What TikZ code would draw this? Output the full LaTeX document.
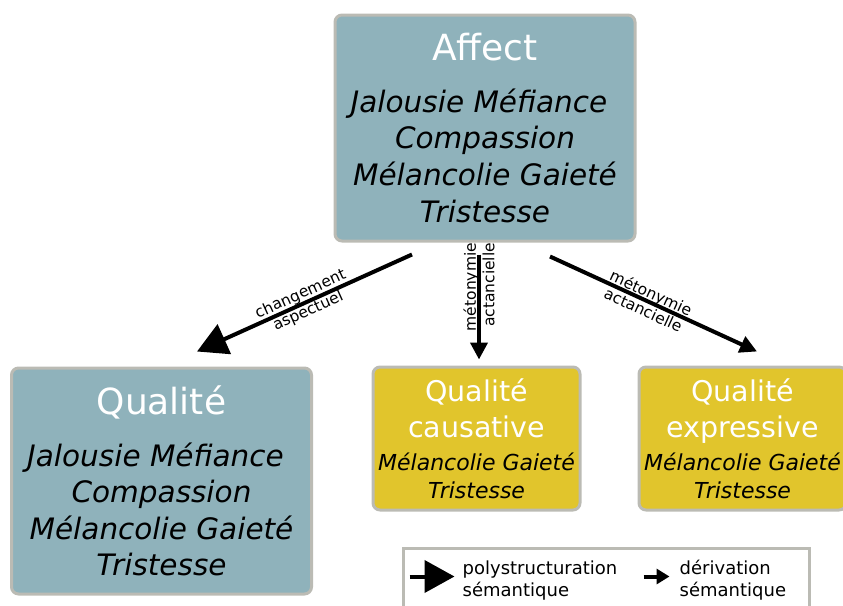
\documentclass[tikz,border=0pt]{standalone}
\usepackage{fontspec}
\setmainfont{DejaVu Sans}
\usetikzlibrary{arrows.meta,positioning}
\definecolor{affectblue}{HTML}{8FB2BB}
\definecolor{qualyellow}{HTML}{E1C52C}
\definecolor{boxborder}{HTML}{BBBBB4}
\tikzset{
    bigbox/.style={
        rounded corners=7pt,
        line width=3pt,
        draw=boxborder,
        fill=affectblue,
        minimum width=300pt,
        minimum height=226pt,
        inner sep=0pt,
        align=center,
        font=\fontsize{29.5}{36.6}\selectfont,
    },
    smallbox/.style={
        rounded corners=7pt,
        line width=3pt,
        draw=boxborder,
        fill=qualyellow,
        minimum width=207pt,
        minimum height=143pt,
        inner sep=0pt,
        align=center,
        font=\fontsize{22}{28}\selectfont,
    },
    legendbox/.style={
        line width=3pt,
        draw=boxborder,
        fill=white,
        minimum width=406pt,
        minimum height=80pt,
    },
    poly/.style={
        line width=4pt,
        -{Triangle[length=30pt,width=32pt]},
    },
    deriv/.style={
        line width=4pt,
        -{Triangle[length=17pt,width=17pt]},
    },
    lbl/.style={
        font=\fontsize{15.5}{18.5}\selectfont,
        align=center,
        inner sep=0.5pt,
    },
    legtext/.style={
        font=\fontsize{18}{22}\selectfont,
        align=left,
        inner sep=0pt,
    },
}
\newcommand{\bigtitle}[1]{{\fontsize{36}{36}\selectfont\color{white}#1}}
\newcommand{\smalltitle}[1]{{\fontsize{28.5}{28}\selectfont\color{white}#1}}

\begin{document}
\begin{tikzpicture}[x=1pt,y=-1pt]
    \useasboundingbox (0,0) rectangle (843,605);
    \clip (0,0) rectangle (843,605);

    % boxes
    \node [bigbox] (affect) at (485,128)
        {\bigtitle{Affect}\\[15pt]
         \itshape Jalousie Méfiance\rule{12pt}{0pt}\\ \itshape Compassion\\
         \itshape Mélancolie Gaieté\\ \itshape Tristesse};
    \node [bigbox] (qualite) at (161.5,481)
        {\bigtitle{Qualité}\\[15pt]
         \itshape Jalousie Méfiance\rule{12pt}{0pt}\\ \itshape Compassion\\
         \itshape Mélancolie Gaieté\\ \itshape Tristesse};
    \node [smallbox] (causative) at (476.5,438.5)
        {\smalltitle{Qualité}\\[8pt] \smalltitle{causative}\\[5pt]
         \itshape Mélancolie Gaieté\\ \itshape Tristesse};
    \node [smallbox] (expressive) at (742.5,438.5)
        {\smalltitle{Qualité}\\[8pt] \smalltitle{expressive}\\[5pt]
         \itshape Mélancolie Gaieté\\ \itshape Tristesse};

    % arrow ends
    \coordinate (from-left) at ([xshift=-73pt,yshift=-12pt]affect.south);
    \coordinate (from-mid) at ([xshift=-6pt,yshift=-12pt]affect.south);
    \coordinate (from-right) at ([xshift=65pt,yshift=-14pt]affect.south);
    \coordinate (to-left) at ([xshift=35.5pt,yshift=15pt]qualite.north);
    \coordinate (to-mid) at ([xshift=2.5pt,yshift=6pt]causative.north);
    \coordinate (to-right) at ([xshift=14.5pt,yshift=14pt]expressive.north);

    \draw [poly] (from-left) -- node [lbl, sloped, midway] {changement\\aspectuel} (to-left);
    \draw [deriv] (from-mid) -- node [lbl, rotate=90, align=right, pos=0.31] {métonymie\\actancielle} (to-mid);
    \draw [deriv] (from-right) -- node [lbl, sloped, pos=0.47] {métonymie\\actancielle} (to-right);

    % legend
    \node [legendbox] (legend) at (606,588) {};
    \coordinate (poly-a) at ([xshift=8pt,yshift=-30pt]legend.north west);
    \coordinate (poly-b) at ([xshift=45pt]poly-a);
    \draw [poly] (poly-a) -- (poly-b);
    \node [legtext, right=8pt of poly-b, yshift=-4pt] (poly-txt) {polystructuration\\sémantique};
    \coordinate (deriv-a) at ([xshift=234pt]poly-a);
    \coordinate (deriv-b) at ([xshift=26pt]deriv-a);
    \draw [line width=4pt, -{Triangle[length=13pt,width=15pt]}] (deriv-a) -- (deriv-b);
    \node [legtext, right=10pt of deriv-b, yshift=-4pt] (deriv-txt) {dérivation\\sémantique};
\end{tikzpicture}
\end{document}
